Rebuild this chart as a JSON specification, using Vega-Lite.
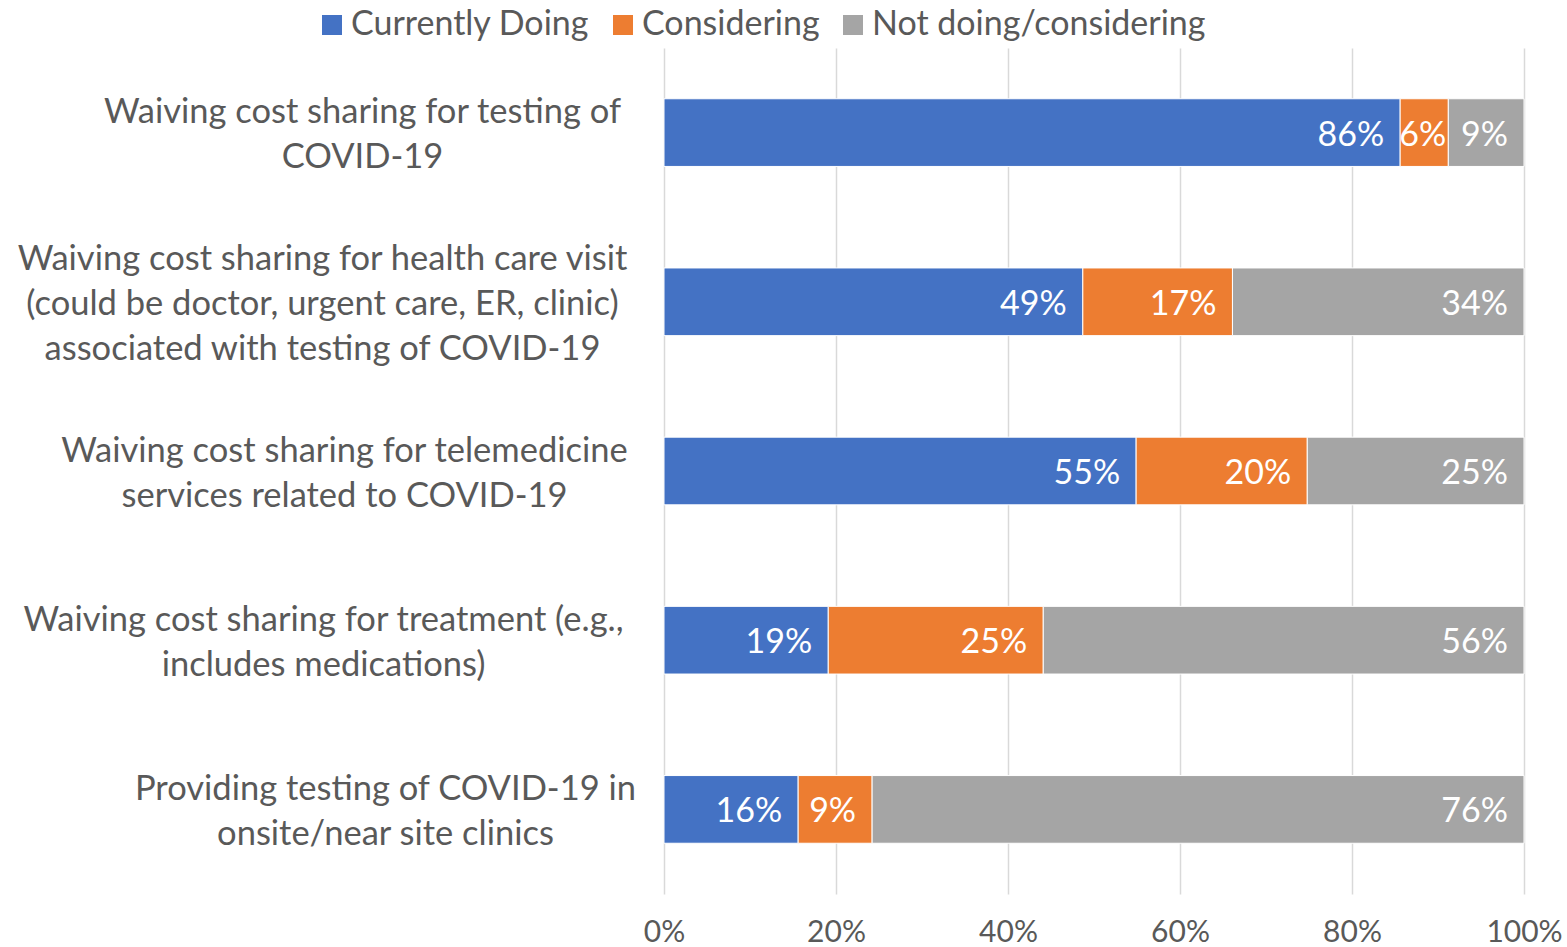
{
  "$schema": "https://vega.github.io/schema/vega-lite/v6.json",
  "autosize": {"type": "none"},
  "width": 860,
  "height": 846,
  "padding": {"left": 664, "top": 48, "right": 43, "bottom": 53},
  "background": "white",
  "config": {
    "view": {"stroke": null},
    "font": "Lato"
  },
  "data": {
    "values": [
      {"item": "Waiving cost sharing for testing of|COVID-19", "status": "Currently Doing", "k": 1, "v": 0.856},
      {"item": "Waiving cost sharing for testing of|COVID-19", "status": "Considering", "k": 2, "v": 0.056},
      {"item": "Waiving cost sharing for testing of|COVID-19", "status": "Not doing/considering", "k": 3, "v": 0.088},
      {"item": "Waiving cost sharing for health care visit|(could be doctor, urgent care, ER, clinic)|associated with testing of COVID-19", "status": "Currently Doing", "k": 1, "v": 0.487},
      {"item": "Waiving cost sharing for health care visit|(could be doctor, urgent care, ER, clinic)|associated with testing of COVID-19", "status": "Considering", "k": 2, "v": 0.174},
      {"item": "Waiving cost sharing for health care visit|(could be doctor, urgent care, ER, clinic)|associated with testing of COVID-19", "status": "Not doing/considering", "k": 3, "v": 0.339},
      {"item": "Waiving cost sharing for telemedicine|services related to COVID-19", "status": "Currently Doing", "k": 1, "v": 0.549},
      {"item": "Waiving cost sharing for telemedicine|services related to COVID-19", "status": "Considering", "k": 2, "v": 0.199},
      {"item": "Waiving cost sharing for telemedicine|services related to COVID-19", "status": "Not doing/considering", "k": 3, "v": 0.252},
      {"item": "Waiving cost sharing for treatment (e.g.,|includes medications)", "status": "Currently Doing", "k": 1, "v": 0.191},
      {"item": "Waiving cost sharing for treatment (e.g.,|includes medications)", "status": "Considering", "k": 2, "v": 0.25},
      {"item": "Waiving cost sharing for treatment (e.g.,|includes medications)", "status": "Not doing/considering", "k": 3, "v": 0.559},
      {"item": "Providing testing of COVID-19 in|onsite/near site clinics", "status": "Currently Doing", "k": 1, "v": 0.156},
      {"item": "Providing testing of COVID-19 in|onsite/near site clinics", "status": "Considering", "k": 2, "v": 0.086},
      {"item": "Providing testing of COVID-19 in|onsite/near site clinics", "status": "Not doing/considering", "k": 3, "v": 0.758}
    ]
  },
  "transform": [
    {"stack": "v", "groupby": ["item"], "sort": [{"field": "k", "order": "ascending"}], "as": ["x0", "x1"]}
  ],
  "encoding": {
    "y": {
      "field": "item",
      "type": "nominal",
      "sort": [
        "Waiving cost sharing for testing of|COVID-19",
        "Waiving cost sharing for health care visit|(could be doctor, urgent care, ER, clinic)|associated with testing of COVID-19",
        "Waiving cost sharing for telemedicine|services related to COVID-19",
        "Waiving cost sharing for treatment (e.g.,|includes medications)",
        "Providing testing of COVID-19 in|onsite/near site clinics"
      ],
      "scale": {"paddingInner": 0.6, "paddingOuter": 0.3},
      "axis": {
        "title": null,
        "domain": false,
        "ticks": false,
        "grid": false,
        "labelExpr": "split(datum.label, '|')",
        "labelFont": "Lato",
        "labelFontSize": 34.5,
        "labelLineHeight": 45,
        "labelColor": "#595959",
        "labelLimit": 900,
        "labelAlign": "center",
        "labelBaseline": "middle",
        "labelOffset": {
          "condition": {"test": "indexof(datum.value, 'health') >= 0", "value": -42},
          "value": -19.5
        },
        "labelPadding": {
          "condition": [
            {"test": "indexof(datum.value, 'testing of|COVID') >= 0", "value": 302},
            {"test": "indexof(datum.value, 'health') >= 0", "value": 342},
            {"test": "indexof(datum.value, 'telemedicine') >= 0", "value": 320},
            {"test": "indexof(datum.value, 'treatment') >= 0", "value": 341}
          ],
          "value": 279
        }
      }
    }
  },
  "layer": [
    {
      "mark": {"type": "bar", "stroke": "white", "strokeWidth": 1},
      "encoding": {
        "x": {
          "field": "x0",
          "type": "quantitative",
          "scale": {"domain": [0, 1], "nice": false},
          "axis": {
            "title": null,
            "format": ".0%",
            "values": [0, 0.2, 0.4, 0.6, 0.8, 1],
            "domain": false,
            "ticks": false,
            "grid": true,
            "gridColor": "#D9D9D9",
            "gridWidth": 1.5,
            "labelFont": "Lato",
            "labelFontSize": 30,
            "labelColor": "#595959",
            "labelPadding": 23,
            "labelFlush": false
          }
        },
        "x2": {"field": "x1"},
        "color": {
          "field": "status",
          "type": "nominal",
          "scale": {
            "domain": ["Currently Doing", "Considering", "Not doing/considering"],
            "range": ["#4472C4", "#ED7D31", "#A5A5A5"]
          },
          "legend": {
            "title": null,
            "orient": "none",
            "direction": "horizontal",
            "legendX": -349,
            "legendY": -40,
            "symbolType": "square",
            "symbolSize": 400,
            "symbolStrokeWidth": 0,
            "labelFont": "Lato",
            "labelFontSize": 34,
            "labelColor": "#595959",
            "labelOffset": 2,
            "columnPadding": 16,
            "labelLimit": 600
          }
        }
      }
    },
    {
      "transform": [{"filter": "datum.v >= 0.07"}],
      "mark": {"type": "text", "align": "right", "baseline": "middle", "dx": -16, "dy": 3, "color": "white", "fontSize": 34, "font": "Lato"},
      "encoding": {
        "x": {"field": "x1", "type": "quantitative"},
        "text": {"field": "v", "type": "quantitative", "format": ".0%"}
      }
    },
    {
      "transform": [{"filter": "datum.v < 0.07"}],
      "mark": {"type": "text", "align": "left", "baseline": "middle", "dx": -1, "dy": 3, "color": "white", "fontSize": 34, "font": "Lato"},
      "encoding": {
        "x": {"field": "x0", "type": "quantitative"},
        "text": {"field": "v", "type": "quantitative", "format": ".0%"}
      }
    }
  ]
}
